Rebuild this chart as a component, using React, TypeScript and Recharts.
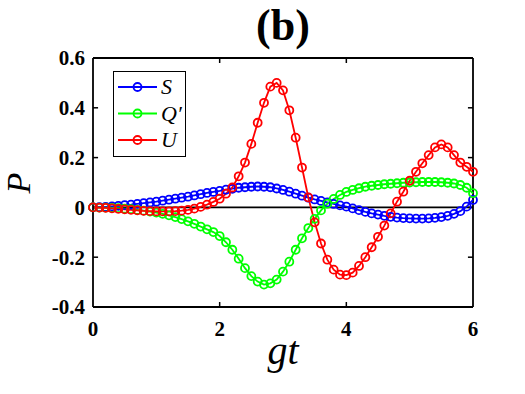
import React from "react";
import { LineChart, Line, XAxis, YAxis, ReferenceLine, Legend } from "recharts";

// gt values (step 0.1)
const times = [
  0, 0.1, 0.2, 0.3, 0.4, 0.5, 0.6, 0.7, 0.8, 0.9,
  1, 1.1, 1.2, 1.3, 1.4, 1.5, 1.6, 1.7, 1.8, 1.9,
  2, 2.1, 2.2, 2.3, 2.4, 2.5, 2.6, 2.7, 2.8, 2.9,
  3, 3.1, 3.2, 3.3, 3.4, 3.5, 3.6, 3.7, 3.8, 3.9,
  4, 4.1, 4.2, 4.3, 4.4, 4.5, 4.6, 4.7, 4.8, 4.9,
  5, 5.1, 5.2, 5.3, 5.4, 5.5, 5.6, 5.7, 5.8, 5.9, 6,
];

const sValues = [
  0, 0.001, 0.002, 0.004, 0.006, 0.009, 0.011, 0.014, 0.017, 0.02,
  0.023, 0.027, 0.031, 0.035, 0.039, 0.043, 0.048, 0.053, 0.058, 0.062,
  0.066, 0.071, 0.075, 0.079, 0.081, 0.083, 0.084, 0.083, 0.081, 0.076,
  0.07, 0.063, 0.055, 0.047, 0.039, 0.032, 0.026, 0.02, 0.014, 0.008,
  0.003, -0.004, -0.011, -0.018, -0.024, -0.029, -0.034, -0.038, -0.041, -0.043,
  -0.044, -0.045, -0.045, -0.044, -0.042, -0.039, -0.034, -0.026, -0.015, 0.003, 0.03,
];

const qValues = [
  0, -0.001, -0.001, -0.002, -0.003, -0.005, -0.007, -0.01, -0.013, -0.017,
  -0.021, -0.026, -0.032, -0.039, -0.047, -0.056, -0.066, -0.077, -0.088, -0.099,
  -0.115, -0.14, -0.17, -0.206, -0.244, -0.276, -0.298, -0.31, -0.305, -0.29,
  -0.258, -0.218, -0.17, -0.124, -0.083, -0.046, -0.012, 0.015, 0.034, 0.05,
  0.062, 0.07, 0.077, 0.083, 0.087, 0.09, 0.093, 0.095, 0.097, 0.099,
  0.1, 0.101, 0.102, 0.102, 0.102, 0.101, 0.099, 0.096, 0.09, 0.079, 0.057,
];

const uValues = [
  0, -0.001, -0.002, -0.004, -0.006, -0.008, -0.01, -0.012, -0.014, -0.015,
  -0.016, -0.016, -0.016, -0.015, -0.013, -0.01, -0.005, 0.002, 0.011, 0.022,
  0.035, 0.055, 0.08, 0.125, 0.18, 0.255, 0.34, 0.42, 0.485, 0.5,
  0.47, 0.39, 0.28, 0.16, 0.04, -0.06, -0.145, -0.21, -0.25, -0.27,
  -0.272, -0.262, -0.235, -0.2, -0.16, -0.118, -0.073, -0.024, 0.023, 0.063,
  0.107, 0.143, 0.177, 0.21, 0.241, 0.253, 0.241, 0.21, 0.18, 0.163, 0.143,
];

const xTicks = [0, 2, 4, 6];
const yTicks = [-0.4, -0.2, 0, 0.2, 0.4, 0.6];

const series = [
  { key: "S", label: "S", color: "#0000ff" },
  { key: "Q", label: "Q\u2032", color: "#00ff00" },
  { key: "U", label: "U", color: "#ff0000" },
];

const data = times.map((t, i) => ({ t, S: sValues[i], Q: qValues[i], U: uValues[i] }));

const serif = "'Liberation Serif', 'Times New Roman', serif";
const tickStyle = { fontSize: 21, fontWeight: 700, fill: "#000", fontFamily: serif };

const LegendBox = () => (
  <div style={{ width: 71, height: 84, border: "1.5px solid #000", background: "#fff" }}>
    <svg width={71} height={84}>
      {series.map((s, i) => {
        const y = 15 + i * 26.5;
        return (
          <g key={s.key}>
            <line x1={4} x2={43} y1={y} y2={y} stroke={s.color} strokeWidth={2} />
            <circle cx={23.5} cy={y} r={4} fill="none" stroke={s.color} strokeWidth={1.8} />
            <text x={47} y={y + 7} fontFamily={serif} fontStyle="italic" fontSize={22} fill="#000">
              {s.label}
            </text>
          </g>
        );
      })}
    </svg>
  </div>
);

const YLabel = () => (
  <text x={30} y={183} transform="rotate(-90 30 183)" textAnchor="middle" fontFamily={serif}
    fontStyle="italic" fontSize={34} fill="#000">
    P
  </text>
);

const XLabel = () => (
  <text x={283} y={364} textAnchor="middle" fontFamily={serif} fontStyle="italic" fontSize={40} fill="#000">
    gt
  </text>
);

export default function App() {
  return (
    <div style={{ position: "relative", width: 525, height: 394, background: "#fff", fontFamily: serif }}>
      <style>{"body{margin:0}"}</style>
      <LineChart width={525} height={394} data={data} margin={{ top: 58, right: 52, left: 0, bottom: 0 }}>
        <XAxis dataKey="t" type="number" domain={[0, 6]} ticks={xTicks} height={87}
          axisLine={{ stroke: "#000", strokeWidth: 1.8 }} tickLine={false} tickMargin={8} tick={tickStyle}
          label={<XLabel />} />
        <YAxis type="number" domain={[-0.4, 0.6]} ticks={yTicks} width={93} allowDataOverflow
          axisLine={{ stroke: "#000", strokeWidth: 1.8 }} tickLine={false} tick={tickStyle}
          label={<YLabel />} />
        <ReferenceLine y={0.6} stroke="#000" strokeWidth={1.8} />
        <ReferenceLine x={6} stroke="#000" strokeWidth={1.8} />
        {[2, 4].map((x) => (
          <ReferenceLine key={"b" + x} segment={[{ x, y: -0.4 }, { x, y: -0.38 }]} stroke="#000" strokeWidth={1.5} />
        ))}
        {[2, 4].map((x) => (
          <ReferenceLine key={"t" + x} segment={[{ x, y: 0.6 }, { x, y: 0.58 }]} stroke="#000" strokeWidth={1.5} />
        ))}
        {[-0.2, 0, 0.2, 0.4].map((y) => (
          <ReferenceLine key={"l" + y} segment={[{ x: 0, y }, { x: 0.08, y }]} stroke="#000" strokeWidth={1.5} />
        ))}
        {[-0.2, 0, 0.2, 0.4].map((y) => (
          <ReferenceLine key={"r" + y} segment={[{ x: 5.92, y }, { x: 6, y }]} stroke="#000" strokeWidth={1.5} />
        ))}
        <ReferenceLine y={0} stroke="#000" strokeWidth={1.6} />
        {series.map((s) => (
          <Line key={s.key} dataKey={s.key} name={s.label} type="linear" stroke={s.color} strokeWidth={1.8}
            dot={{ r: 4, fill: "none", stroke: s.color, strokeWidth: 1.8 }} isAnimationActive={false} />
        ))}
        <Legend layout="vertical" align="center" verticalAlign="middle" content={<LegendBox />}
          wrapperStyle={{ left: 113, top: 71, width: 74, height: 87 }} />
      </LineChart>
      <svg width={525} height={60} style={{ position: "absolute", left: 0, top: 0, pointerEvents: "none" }}>
        <text x={283} y={40} textAnchor="middle" fontFamily={serif} fontWeight={700} fontSize={44} fill="#000">
          (b)
        </text>
      </svg>
    </div>
  );
}
